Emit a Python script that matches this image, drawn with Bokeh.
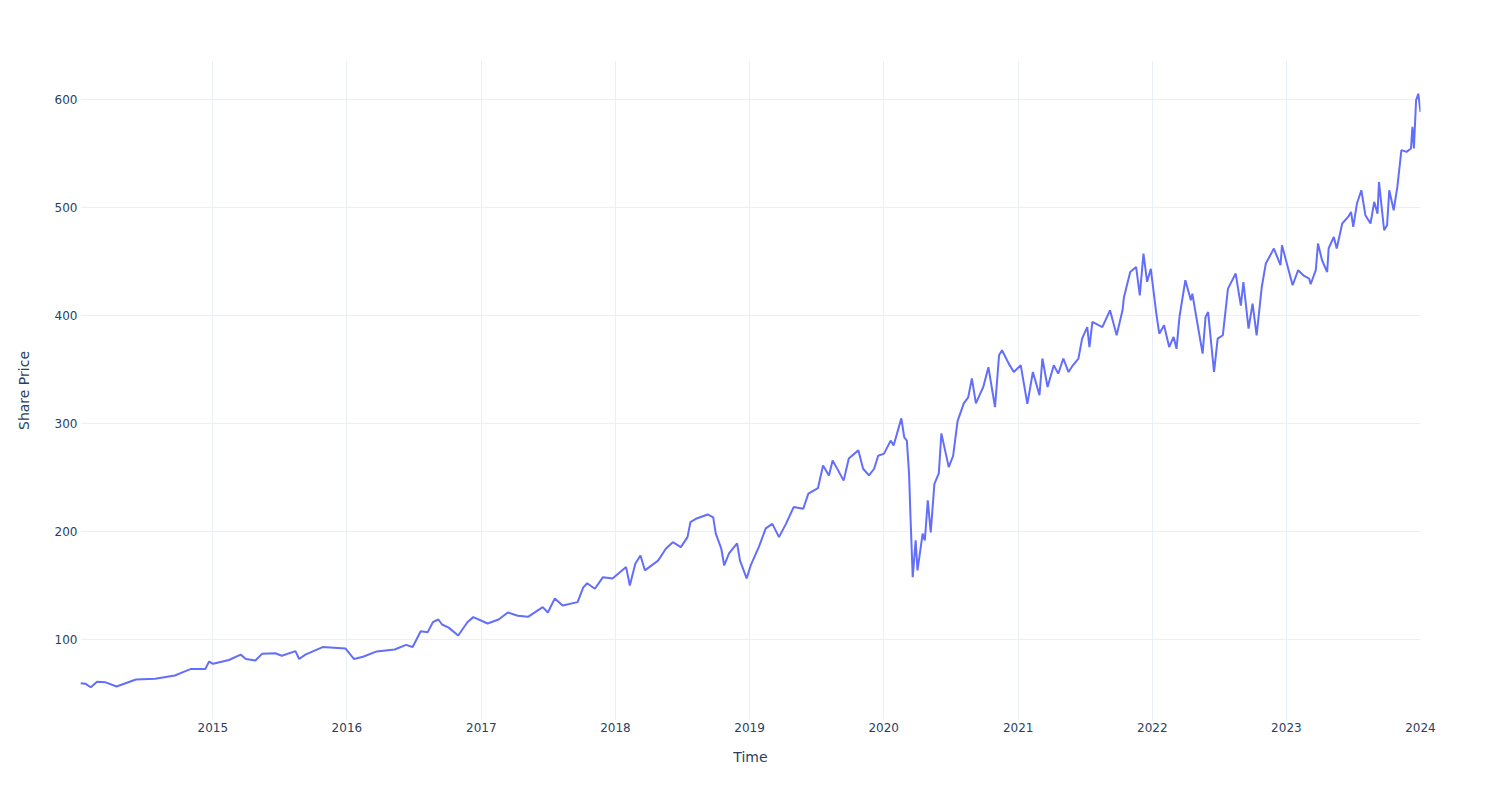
import pandas as pd
from bokeh.plotting import figure
from bokeh.models import Range1d, FixedTicker, ColumnDataSource
from bokeh.embed import file_html
from bokeh.resources import INLINE

dates = [
    "2014-01-06", "2014-01-20", "2014-02-03", "2014-02-20", "2014-03-14", "2014-04-14",
    "2014-06-06", "2014-07-28", "2014-09-20", "2014-10-12", "2014-11-03", "2014-12-12",
    "2014-12-22", "2015-01-02", "2015-02-14", "2015-03-18", "2015-04-01", "2015-04-27",
    "2015-05-15", "2015-06-20", "2015-07-08", "2015-08-14", "2015-08-24", "2015-09-10",
    "2015-10-27", "2015-12-28", "2016-01-20", "2016-02-14", "2016-03-22", "2016-05-10",
    "2016-06-10", "2016-06-28", "2016-07-20", "2016-08-08", "2016-08-22", "2016-09-06",
    "2016-09-16", "2016-10-04", "2016-10-30", "2016-11-24", "2016-12-10", "2017-01-18",
    "2017-02-17", "2017-03-14", "2017-04-10", "2017-05-08", "2017-06-17", "2017-07-01",
    "2017-07-20", "2017-08-10", "2017-09-20", "2017-10-05", "2017-10-16", "2017-11-06",
    "2017-11-28", "2017-12-24", "2018-01-30", "2018-02-09", "2018-02-24", "2018-03-10",
    "2018-03-22", "2018-04-27", "2018-05-18", "2018-06-06", "2018-06-28", "2018-07-16",
    "2018-07-24", "2018-08-10", "2018-09-09", "2018-09-24", "2018-10-01", "2018-10-16",
    "2018-10-24", "2018-11-06", "2018-11-28", "2018-12-06", "2018-12-24", "2019-01-04",
    "2019-01-26", "2019-02-14", "2019-03-04", "2019-03-22", "2019-04-10", "2019-05-01",
    "2019-05-27", "2019-06-10", "2019-07-06", "2019-07-20", "2019-08-05", "2019-08-15",
    "2019-08-30", "2019-09-14", "2019-09-28", "2019-10-24", "2019-11-06", "2019-11-22",
    "2019-12-06", "2019-12-17", "2020-01-02", "2020-01-20", "2020-01-28", "2020-02-18",
    "2020-02-26", "2020-03-04", "2020-03-10", "2020-03-14", "2020-03-20", "2020-03-28",
    "2020-04-02", "2020-04-16", "2020-04-22", "2020-04-30", "2020-05-08", "2020-05-18",
    "2020-05-30", "2020-06-06", "2020-06-18", "2020-06-26", "2020-07-08", "2020-07-20",
    "2020-08-06", "2020-08-18", "2020-08-28", "2020-09-08", "2020-09-20", "2020-09-28",
    "2020-10-12", "2020-10-30", "2020-11-10", "2020-11-18", "2020-12-06", "2020-12-20",
    "2021-01-08", "2021-01-26", "2021-02-10", "2021-02-28", "2021-03-08", "2021-03-22",
    "2021-04-08", "2021-04-20", "2021-05-04", "2021-05-18", "2021-05-30", "2021-06-14",
    "2021-06-24", "2021-07-08", "2021-07-14", "2021-07-22", "2021-08-18", "2021-09-08",
    "2021-09-26", "2021-10-12", "2021-10-16", "2021-11-02", "2021-11-18", "2021-11-28",
    "2021-12-08", "2021-12-18", "2021-12-28", "2022-01-12", "2022-01-20", "2022-02-02",
    "2022-02-16", "2022-02-28", "2022-03-08", "2022-03-16", "2022-04-01", "2022-04-16",
    "2022-04-20", "2022-05-04", "2022-05-18", "2022-05-26", "2022-06-02", "2022-06-18",
    "2022-06-28", "2022-07-12", "2022-07-26", "2022-08-16", "2022-08-30", "2022-09-06",
    "2022-09-20", "2022-10-01", "2022-10-12", "2022-10-26", "2022-11-06", "2022-11-28",
    "2022-12-16", "2022-12-20", "2023-01-18", "2023-02-02", "2023-02-16", "2023-03-04",
    "2023-03-08", "2023-03-22", "2023-03-28", "2023-04-08", "2023-04-22", "2023-04-26",
    "2023-05-10", "2023-05-18", "2023-06-02", "2023-06-18", "2023-06-26", "2023-07-02",
    "2023-07-12", "2023-07-24", "2023-08-04", "2023-08-18", "2023-08-28", "2023-09-06",
    "2023-09-10", "2023-09-24", "2023-10-02", "2023-10-08", "2023-10-20", "2023-10-30",
    "2023-11-10", "2023-11-24", "2023-12-06", "2023-12-10", "2023-12-14", "2023-12-20",
    "2023-12-26", "2024-01-01",
]

prices = [
    59.5, 59.0, 55.8, 61.0, 60.5, 56.5,
    63.0, 63.6, 66.7, 69.8, 72.8, 72.8,
    79.6, 77.5, 81.0, 86.0, 82.0, 80.5,
    86.7, 87.3, 85.0, 89.2, 82.0, 86.0,
    93.0, 91.7, 82.0, 84.0, 89.0, 90.7,
    95.0, 93.0, 107.7, 106.8, 116.0, 118.5,
    113.9, 111.0, 103.7, 116.0, 120.7, 114.8,
    118.5, 125.0, 122.0, 121.0, 130.0, 125.0,
    138.0, 131.5, 134.6, 148.0, 152.0, 147.0,
    157.7, 156.5, 167.0, 150.0, 170.0, 177.8,
    164.0, 173.0, 184.0, 190.0, 185.5, 194.7,
    208.6, 212.0, 215.7, 213.0, 198.0, 184.0,
    168.5, 179.6, 189.0, 173.0, 156.5, 168.5,
    185.5, 202.8, 207.0, 194.7, 207.0, 222.5,
    221.0, 235.0, 240.0, 261.0, 251.8, 265.7,
    256.5, 247.0, 267.5, 275.0, 258.0, 251.8,
    258.0, 270.0, 272.0, 284.0, 279.6, 304.6,
    287.0, 284.0, 253.7, 213.0, 157.7, 191.7,
    164.0, 198.0, 191.7, 228.7, 199.0, 244.0,
    253.7, 290.7, 272.0, 259.5, 270.0, 302.0,
    318.5, 324.0, 341.6, 318.5, 327.7, 333.6,
    352.0, 315.0, 363.0, 367.6, 355.5, 347.5,
    353.7, 318.0, 347.5, 326.0, 360.0, 333.6,
    353.7, 346.0, 360.0, 347.5, 353.7, 360.0,
    378.4, 389.0, 370.6, 393.8, 389.0, 404.6,
    381.5, 404.6, 417.0, 440.0, 444.7, 418.5,
    457.0, 431.0, 443.0, 401.6, 383.0, 390.7,
    370.6, 380.0, 369.0, 398.4, 432.4, 413.9,
    420.0, 392.0, 364.5, 398.4, 403.0, 347.5,
    378.4, 381.5, 424.7, 438.6, 409.0, 430.8,
    387.7, 410.8, 381.5, 426.2, 447.9, 461.8,
    446.3, 464.8, 427.8, 441.7, 437.0, 434.0,
    428.7, 441.7, 466.4, 450.9, 440.0, 461.8,
    472.5, 461.8, 484.9, 491.0, 495.6, 481.8,
    503.4, 515.7, 492.6, 484.9, 505.0, 494.0,
    523.4, 478.7, 483.3, 515.7, 497.2, 518.8,
    552.8, 551.2, 554.3, 574.3, 554.3, 599.0,
    605.0, 588.0,
]

tick_years = ["2015", "2016", "2017", "2018", "2019", "2020", "2021", "2022", "2023", "2024"]
y_ticks = [100, 200, 300, 400, 500, 600]

x = pd.to_datetime(dates)
src = ColumnDataSource(dict(x=x, y=prices))

ymin, ymax = min(prices), max(prices)
pad = (ymax - ymin) * 0.056

p = figure(
    width=1500, height=800, x_axis_type="datetime",
    output_backend="svg", toolbar_location=None,
    x_range=Range1d(x.min(), x.max()),
    y_range=Range1d(ymin - pad, ymax + pad),
    min_border_left=80, min_border_right=80, min_border_top=60, min_border_bottom=80,
)
p.outline_line_color = None
p.background_fill_color = "white"
p.border_fill_color = "white"

p.line("x", "y", source=src, line_color="#636efa", line_width=2)

tick_ms = [pd.Timestamp(f"{y}-01-01").value / 1e6 for y in tick_years]
p.xaxis.ticker = FixedTicker(ticks=tick_ms)
p.xaxis.major_label_overrides = {t: lbl for t, lbl in zip(tick_ms, tick_years)}
p.yaxis.ticker = FixedTicker(ticks=y_ticks)

for ax in (p.xaxis[0], p.yaxis[0]):
    ax.axis_line_color = None
    ax.major_tick_line_color = None
    ax.minor_tick_line_color = None
    ax.major_tick_out = 0
    ax.major_tick_in = 0
    ax.major_label_text_font = "DejaVu Sans"
    ax.major_label_text_font_size = "12px"
    ax.major_label_text_color = "#2a3f5f"
    ax.axis_label_text_font = "DejaVu Sans"
    ax.axis_label_text_font_size = "14px"
    ax.axis_label_text_color = "#2a3f5f"
    ax.axis_label_text_font_style = "normal"

p.xaxis.axis_label = "Time"
p.yaxis.axis_label = "Share Price"
p.xaxis.major_label_standoff = 2
p.yaxis.major_label_standoff = 3
p.xaxis.axis_label_standoff = 14
p.yaxis.axis_label_standoff = 20

p.xgrid.grid_line_color = "#EBF0F8"
p.ygrid.grid_line_color = "#EBF0F8"
p.xgrid.grid_line_width = 1
p.ygrid.grid_line_width = 1

open("out.html", "w").write(file_html(p, INLINE))
